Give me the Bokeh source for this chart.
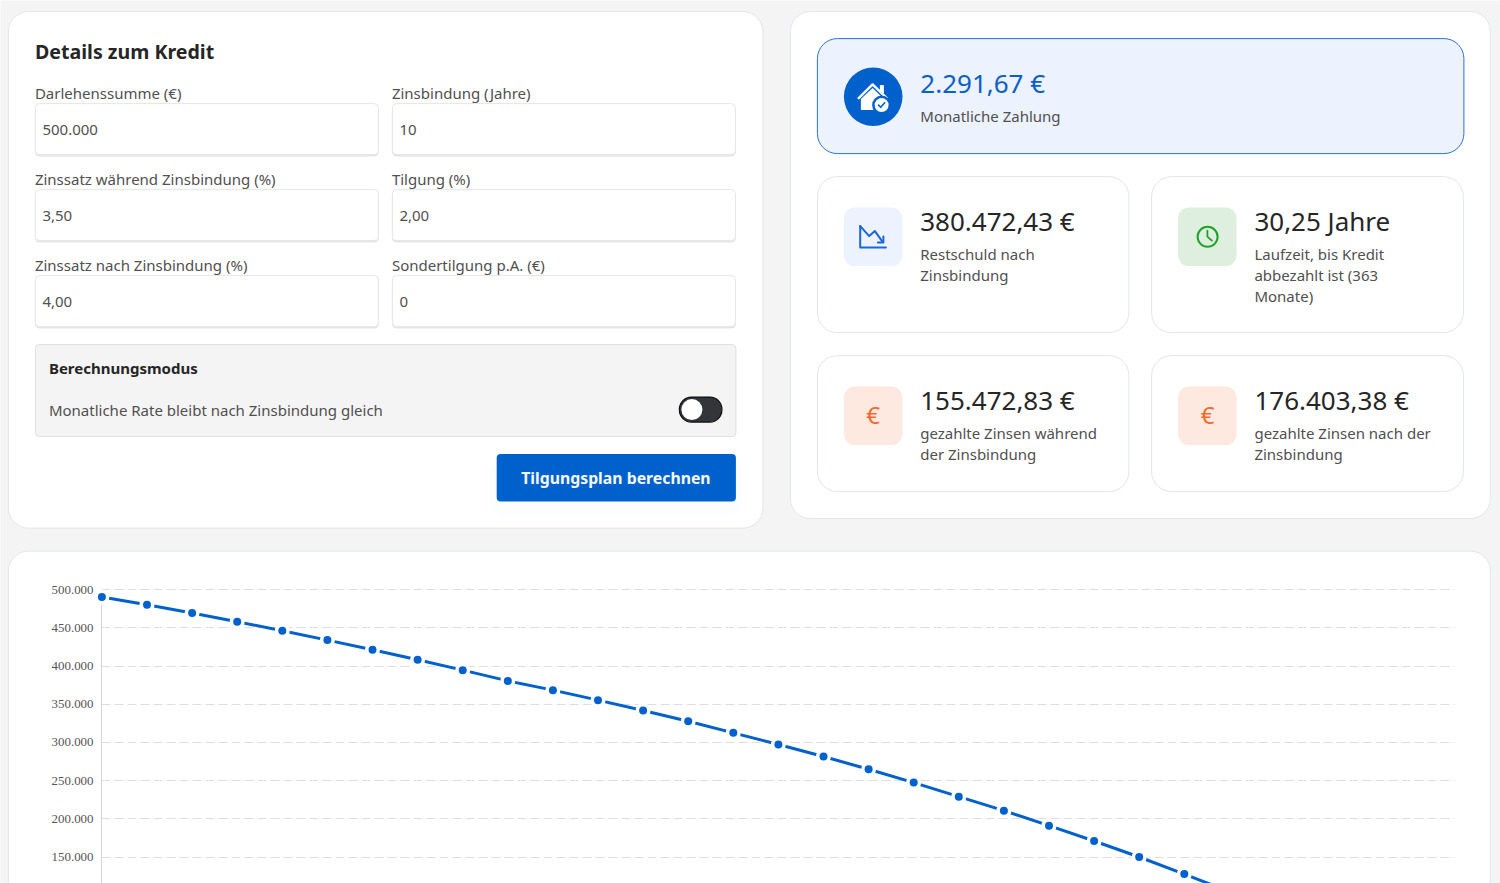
from bokeh.core.properties import value as val
from bokeh.embed import file_html
from bokeh.models import FixedTicker, Grid, LinearAxis, Range1d
from bokeh.plotting import figure
from bokeh.resources import INLINE

# --- chart data ---
years = list(range(1, 27))
balance = [490300, 480300, 469300, 458000, 446250, 433900, 421300, 408200, 394600, 380500,
           368400, 355300, 341800, 327700, 312500, 297200, 281500, 264800, 247400, 229000,
           210700, 191000, 170900, 150000, 127700, 104600]
tick_values = [0, 50000, 100000, 150000, 200000, 250000, 300000, 350000, 400000, 450000, 500000]
tick_labels = ["0", "50.000", "100.000", "150.000", "200.000", "250.000", "300.000", "350.000",
               "400.000", "450.000", "500.000"]

# --- form content ---
form_fields = [
    ("Darlehenssumme (€)", "500.000"), ("Zinsbindung (Jahre)", "10"),
    ("Zinssatz während Zinsbindung (%)", "3,50"), ("Tilgung (%)", "2,00"),
    ("Zinssatz nach Zinsbindung (%)", "4,00"), ("Sondertilgung p.A. (€)", "0"),
]

W, H = 1500, 883
BLUE = "#0061cc"
FONT = "Noto Sans"
CARD_LINE = "#e3e5ea"
BG = "#f4f4f4"
TXT = "#505050"

# pixel <-> value conversion for the chart scales
X0, DX = 101.4, 45.1
Y500, DY = 589.1, 38.2
def yv(py):
    return 500000 - (py - Y500) * 50000 / DY
def xv(px):
    return 1 + (px - X0) / DX

p = figure(width=W, height=H, output_backend="svg", toolbar_location=None,
           x_axis_type=None, y_axis_type=None, min_border=0,
           x_range=Range1d(xv(0), xv(W)), y_range=Range1d(yv(H), yv(0)),
           background_fill_color=BG, border_fill_color=BG, outline_line_color=None)
p.extra_x_ranges["px"] = Range1d(0.6, W + 0.6)
p.extra_y_ranges["px"] = Range1d(H + 0.4, 0.4)
PX = dict(x_range_name="px", y_range_name="px")


def box(x0, y0, x1, y1, fill="#ffffff", line=None, radius=0, alpha=1.0, width=1.0):
    p.quad(left=[x0], right=[x1], top=[y0], bottom=[y1], fill_color=fill, fill_alpha=alpha,
           line_color=line, line_width=width, border_radius=radius, level="image", **PX)


def text(x, y, s, size=15, color=TXT, bold=False, align="left"):
    # the text glyph's alphabetic anchor sits about 0.41 em above the glyph baseline
    p.text([x], [y - 0.41 * size], text=[s], text_font=val(FONT), text_font_size=f"{size}px",
           text_color=color, text_font_style="bold" if bold else "normal", text_align=align,
           text_baseline="alphabetic", level="annotation", **PX)


def stroke(xs, ys, color, width=2.0):
    p.line(xs, ys, line_color=color, line_width=width, line_cap="round", line_join="round",
           level="annotation", **PX)


# cards
box(8.5, 11.5, 763, 528, line=CARD_LINE, radius=20)
box(790.5, 11.5, 1490.5, 518.5, line=CARD_LINE, radius=20)
box(8.5, 551, 1490.5, 960, line=CARD_LINE, radius=20)

# left form
text(35, 59, "Details zum Kredit", size=19.6, color="#262626", bold=True)
rows = [(103.5, 99), (189.5, 185), (275.5, 271)]
for i, (label, value) in enumerate(form_fields):
    x0 = 35.5 if i % 2 == 0 else 392.5
    y0, base = rows[i // 2]
    text(x0 - 0.5, base, label, size=15)
    box(x0 - 0.5, y0 + 1.5, x0 + 343.5, y0 + 53, fill="#000000", alpha=0.10, radius=5)
    box(x0, y0, x0 + 343, y0 + 51, line="#e6e6e6", radius=4)
    text(x0 + 7, y0 + 32.5, value, size=15)

box(35.5, 344.5, 736, 436.5, fill="#f4f4f4", line="#dedede", radius=4)
text(49, 374, "Berechnungsmodus", size=15, color="#262626", bold=True)
text(49, 416, "Monatliche Rate bleibt nach Zinsbindung gleich", size=15)

box(679.5, 397, 722, 422, fill="#333538", line="#111111", radius=12, width=1.2)
p.scatter([692], [409.5], size=21, fill_color="#ffffff", line_color=None, level="annotation", **PX)

box(490, 458, 743, 516, fill="#e9f1fc", alpha=0.12, radius=16)
box(496.8, 454, 736, 501.5, fill=BLUE, radius=4)
text(616, 484.4, "Tilgungsplan berechnen", size=15.8, color="#f4f8fe", bold=True, align="center")

# highlighted payment card
box(817.5, 38.5, 1464, 153.5, fill="#ecf2fe", line="#2b72d4", radius=20)
p.scatter([873.3], [96.7], size=58.6, fill_color=BLUE, line_color=None, level="glyph", **PX)
p.patch([861, 872.7, 884, 884, 861], [99, 88, 99, 110, 110], fill_color="#ffffff", line_color=None,
        level="annotation", **PX)
p.quad(left=[880], right=[884], top=[85], bottom=[93], fill_color="#ffffff", line_color=None,
       level="annotation", **PX)
stroke([858.8, 872.7, 886.8], [98, 84.3, 98], "#ffffff", 2.4)
p.scatter([881.7], [105], size=19, fill_color=BLUE, line_color=None, level="annotation", **PX)
p.scatter([881.7], [105], size=14, fill_color="#ffffff", line_color=None, level="annotation", **PX)
stroke([878.7, 880.8, 884.8], [105, 107.2, 102.6], BLUE, 1.6)
text(920.4, 93.3, "2.291,67 €", size=26, color="#0b5fc8")
text(920.4, 122.5, "Monatliche Zahlung", size=15)

# stat cards
stat_cards = [
    (817.5, 1129, 176.5, 332.5, "#ecf2fe", "380.472,43 €", ["Restschuld nach", "Zinsbindung"]),
    (1151.7, 1463.5, 176.5, 332.5, "#deefdf", "30,25 Jahre",
     ["Laufzeit, bis Kredit", "abbezahlt ist (363", "Monate)"]),
    (817.5, 1129, 355.5, 491.5, "#fde9df", "155.472,83 €", ["gezahlte Zinsen während", "der Zinsbindung"]),
    (1151.7, 1463.5, 355.5, 491.5, "#fde9df", "176.403,38 €", ["gezahlte Zinsen nach der", "Zinsbindung"]),
]
for x0, x1, y0, y1, tile, value, sub in stat_cards:
    box(x0, y0, x1, y1, line=CARD_LINE, radius=20)
    box(x0 + 26.5, y0 + 31, x0 + 85, y0 + 89.5, fill=tile, radius=11)
    text(x0 + 102.8, y0 + 54.7, value, size=26, color="#262626")
    for i, line in enumerate(sub):
        text(x0 + 102.8, y0 + 84 + i * 20.6, line, size=15)

# icon: falling chart
stroke([860.3, 860.3, 886], [226, 247.3, 247.3], "#1a66d6", 2)
stroke([860.3, 869.3, 875, 882.7], [226, 236, 231, 241.7], "#1a66d6", 2)
stroke([883.5, 883.5, 878], [236.5, 242.3, 242.3], "#1a66d6", 2)
# icon: clock
p.scatter([1207.7], [236.7], size=20, fill_color=None, line_color="#1fa22a", line_width=2,
          level="annotation", **PX)
stroke([1207.5, 1207.5, 1212], [230.5, 236.5, 240.5], "#1fa22a", 1.8)
# icons: euro
text(873.2, 423.8, "€", size=24, color="#f5692c", align="center")
text(1207.7, 423.8, "€", size=24, color="#f5692c", align="center")

# chart: axis, grid, line and points through the library's scales
ticker = FixedTicker(ticks=tick_values)
axis = LinearAxis(ticker=ticker, fixed_location=xv(101), bounds=(yv(H), 500000),
                  major_label_overrides=dict(zip(tick_values, tick_labels)),
                  axis_line_color="#d6d6d6", axis_line_width=1, major_tick_line_color=None,
                  minor_tick_line_color=None, major_label_standoff=2,
                  major_label_text_font="Liberation Serif", major_label_text_font_size="12.9px",
                  major_label_text_color="#555555")
p.add_layout(axis, "left")
p.add_layout(Grid(dimension=1, ticker=ticker, cross_bounds=(xv(101), xv(1453.5)),
                  grid_line_color="#dedede", grid_line_width=1.2, grid_line_dash=[9, 4]))

p.line(years, balance, line_color=BLUE, line_width=3)
p.scatter(years, balance, size=15, fill_color="#ffffff", line_color=None, level="overlay")
p.scatter(years, balance, size=8, fill_color=BLUE, line_color=None, level="overlay")

open("out.html", "w").write(file_html(p, INLINE))
